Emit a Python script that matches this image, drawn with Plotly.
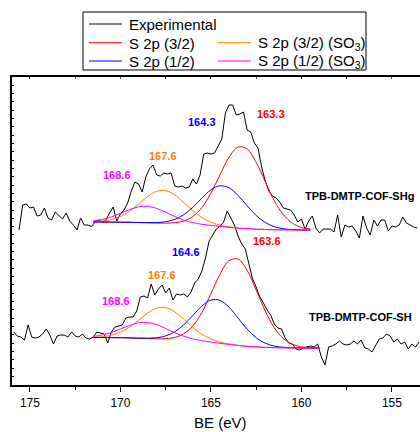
import plotly.graph_objects as go

# ---------------- data ----------------
# Experimental spectra (intensity, arbitrary units) on a 0.2 eV binding-energy grid
up_start, lo_start, step = 175.6, 175.9, 0.2
up_exp = [155, 180, 181, 177, 178, 169, 170, 177, 167, 165,
          173, 169, 166, 172, 164, 160, 155, 167, 160, 160,
          158.5, 163, 165, 163, 165, 172, 178, 164, 171, 175,
          182, 194, 203, 201, 193, 208, 216, 220, 210, 209,
          212, 211, 212, 199, 198, 199, 197, 198, 206, 201,
          210, 231, 232, 231, 232, 239, 246, 272, 280, 280,
          270, 271, 273, 255, 253, 242, 237, 218, 204, 194,
          189, 187, 183, 177, 176, 175, 170, 163, 166, 156,
          164, 169, 157, 152, 156, 156, 156, 153, 170, 148,
          160, 158, 159, 154, 147, 169, 157, 150, 165, 159,
          165, 165, 154, 159, 158, 160, 168, 162, 160, 158,
          157]
lo_exp = [53, 49, 48, 45, 60, 48, 47, 48, 51, 56,
          50, 41, 49, 50, 50, 48, 53, 49, 48, 51,
          47, 46, 48, 53, 52, 51, 42, 53, 58, 59,
          60, 67, 68, 68, 74, 88, 89, 87, 101, 90,
          96, 100, 92, 97, 85, 91, 90, 91, 88, 93,
          102, 106, 114, 127, 144, 150, 156, 159, 163, 174,
          167, 160, 149, 141, 136, 120, 106, 98, 88, 82,
          75, 70, 61, 57, 56, 47, 42, 41, 36, 35,
          37, 38, 39, 38, 41, 28, 20, 38, 39, 41,
          44, 41, 40, 41, 44, 41, 45, 37, 36, 33,
          39, 46, 47, 51, 49, 43, 46, 41, 43, 36,
          41, 38, 43]
up_be = [round(up_start - step * i, 1) for i in range(len(up_exp))]
lo_be = [round(lo_start - step * i, 1) for i in range(len(lo_exp))]

# Fitted components (background + peak)
fit_be_up = [171.5, 171.0, 170.5, 170.0, 169.5, 169.0, 168.5, 168.0, 167.5, 167.0,
             166.5, 166.0, 165.5, 165.0, 164.5, 164.0, 163.5, 163.0, 162.5, 162.0,
             161.5, 161.0, 160.5, 160.0, 159.5]
fit_be_lo = fit_be_up + [159.0]

up_red = [163.0, 163.0, 162.9, 162.8, 162.7, 162.4, 162.2, 161.9, 161.9, 162.3,
          164.0, 168.5, 177.4, 191.8, 210.2, 227.8, 237.9, 236.0, 222.6, 203.3,
          184.3, 170.2, 161.8, 157.5, 155.8]
up_blue = [163.0, 163.0, 162.9, 162.8, 162.7, 162.5, 162.4, 162.5, 163.3, 165.6,
           170.3, 177.7, 186.8, 195.1, 199.2, 197.2, 189.5, 179.2, 169.5, 162.5,
           158.3, 156.3, 155.4, 155.1, 155.0]
up_orange = [163.3, 163.9, 165.4, 168.5, 173.7, 180.9, 188.4, 193.6, 194.3, 190.1,
             182.5, 174.3, 167.5, 162.8, 159.9, 158.2, 157.0, 156.3, 155.8, 155.5,
             155.2, 155.1, 155.1, 155.0, 155.0]
up_magenta = [164.1, 165.6, 168.1, 171.7, 175.4, 178.1, 178.7, 176.6, 172.8, 168.5,
              164.9, 162.4, 160.7, 159.6, 158.6, 157.7, 156.9, 156.3, 155.8, 155.5,
              155.2, 155.1, 155.1, 155.0, 155.0]

lo_red = [47.5, 47.5, 47.4, 47.3, 47.1, 46.8, 46.5, 46.2, 46.4, 47.6,
          51.3, 59.0, 72.6, 91.3, 110.7, 124.3, 125.9, 114.7, 95.0, 74.0,
          57.1, 46.4, 40.7, 38.2, 37.4, 37.1]
lo_blue = [47.5, 47.5, 47.4, 47.3, 47.1, 46.9, 46.9, 47.3, 49.1, 53.2,
           60.2, 69.5, 79.0, 85.0, 84.6, 77.8, 66.9, 55.9, 47.3, 41.8,
           38.9, 37.7, 37.2, 37.0, 37.0, 37.0]
lo_orange = [47.8, 48.4, 49.8, 52.8, 57.8, 64.7, 71.9, 76.8, 77.4, 73.2,
             65.8, 57.6, 50.8, 46.1, 42.9, 41.1, 39.6, 38.7, 38.1, 37.6,
             37.3, 37.2, 37.1, 37.0, 37.0, 37.0]
lo_magenta = [48.6, 50.1, 52.5, 56.0, 59.6, 62.2, 62.6, 60.4, 56.6, 52.3,
              48.8, 46.1, 44.3, 43.0, 41.7, 40.6, 39.5, 38.7, 38.1, 37.6,
              37.3, 37.2, 37.1, 37.0, 37.0, 37.0]

legend_names = ["Experimental", "S 2p (3/2)", "S 2p (3/2) (SO<sub>3</sub>)",
                "S 2p (1/2)", "S 2p (1/2) (SO<sub>3</sub>)"]
peak_labels_up = [("164.3", 165.47, 263.3, "blue"), ("163.3", 161.70, 271.5, "red"),
                  ("167.6", 167.66, 228.8, "orange"), ("168.6", 170.18, 210.0, "magenta")]
peak_labels_lo = [("164.6", 166.39, 133.0, "blue"), ("163.6", 161.89, 144.5, "red"),
                  ("167.6", 167.70, 110.3, "orange"), ("168.6", 170.24, 84.0, "magenta")]
sample_labels = [("TPB-DMTP-COF-SHg", 159.93, 189.5), ("TPB-DMTP-COF-SH", 159.68, 68.0)]

# ---------------- style ----------------
COL = {"black": "#000000", "red": "#FF0000", "blue": "#0000FF",
       "orange": "#FF8000", "magenta": "#FF00FF"}
FONT = "Arial, Liberation Sans, sans-serif"
W, H = 420, 432
ML, MR, MT, MB = 12, 0, 77, 47
PW, PH = W - ML - MR, H - MT - MB
X_RANGE = [175.99, 153.45]


def pxx(px):
    return (px - ML) / PW


def pyy(py):
    return (H - MB - py) / PH


fig = go.Figure()
fig.add_trace(go.Scatter(x=up_be, y=up_exp, mode="lines",
                         line=dict(color=COL["black"], width=1)))
fig.add_trace(go.Scatter(x=lo_be, y=lo_exp, mode="lines",
                         line=dict(color=COL["black"], width=1)))
for be, comps in ((fit_be_up, (up_red, up_orange, up_blue, up_magenta)),
                  (fit_be_lo, (lo_red, lo_orange, lo_blue, lo_magenta))):
    for ys, c in zip(comps, ("red", "orange", "blue", "magenta")):
        fig.add_trace(go.Scatter(x=be, y=ys, mode="lines", line_shape="spline",
                                 line=dict(color=COL[c], width=1)))
# carrier trace for the top (mirrored) axis with inward ticks
fig.add_trace(go.Scatter(x=[up_be[0]], y=[up_exp[0]], xaxis="x2", mode="lines",
                         line=dict(color="rgba(0,0,0,0)"), hoverinfo="skip"))

annotations = []
for txt, x, y, c in peak_labels_up + peak_labels_lo:
    annotations.append(dict(x=x, y=y, xref="x", yref="y", text="<b>%s</b>" % txt,
                            showarrow=False, font=dict(family=FONT, size=11, color=COL[c])))
for txt, x, y in sample_labels:
    annotations.append(dict(x=x, y=y, xref="x", yref="y", text="<b>%s</b>" % txt,
                            showarrow=False, xanchor="left",
                            font=dict(family=FONT, size=11, color="#000")))
annotations.append(dict(x=pxx(220), y=pyy(422), xref="paper", yref="paper",
                        text="BE (eV)", showarrow=False, yanchor="middle",
                        font=dict(family=FONT, size=15, color="#000")))

# manual legend (2-column layout)
shapes = [dict(type="rect", xref="paper", yref="paper", x0=pxx(83), x1=pxx(366),
               y0=pyy(70), y1=pyy(12), line=dict(color="#000", width=1),
               fillcolor="rgba(0,0,0,0)")]
leg_items = [(legend_names[0], "black", 89, 24), (legend_names[1], "red", 89, 42.7),
             (legend_names[2], "orange", 218, 42.7), (legend_names[3], "blue", 89, 61),
             (legend_names[4], "magenta", 218, 61)]
for name, c, lx, ly in leg_items:
    shapes.append(dict(type="line", xref="paper", yref="paper", x0=pxx(lx), x1=pxx(lx + 33),
                       y0=pyy(ly), y1=pyy(ly), line=dict(color=COL[c], width=1)))
    annotations.append(dict(x=pxx(lx + 38), y=pyy(ly + 0.8), xref="paper", yref="paper",
                            text=name, showarrow=False, xanchor="left", yanchor="middle",
                            font=dict(family=FONT, size=15, color="#000")))

fig.update_layout(
    width=W, height=H, margin=dict(l=ML, r=MR, t=MT, b=MB),
    paper_bgcolor="white", plot_bgcolor="white", showlegend=False,
    annotations=annotations, shapes=shapes,
    xaxis=dict(range=X_RANGE, showgrid=False, zeroline=False,
               showline=True, linecolor="#000", linewidth=1.5, mirror=True,
               ticks="outside", ticklen=5, tickwidth=1.2, tickcolor="#000",
               tickmode="linear", tick0=155, dtick=5,
               minor=dict(ticks="outside", ticklen=3, tickwidth=1.2, tickcolor="#000",
                          tickmode="linear", tick0=155, dtick=2.5),
               tickfont=dict(family=FONT, size=12, color="#000"),
               ticklabelstandoff=1),
    xaxis2=dict(range=X_RANGE, overlaying="x", side="top", showgrid=False,
                zeroline=False, showline=False, showticklabels=False,
                ticks="inside", ticklen=2, tickwidth=1, tickcolor="#555",
                tickmode="linear", tick0=155, dtick=2.5),
    yaxis=dict(range=[0, 308], showgrid=False, zeroline=False,
               showline=True, linecolor="#000", linewidth=1.5,
               ticks="inside", ticklen=2, tickwidth=1, tickcolor="#000",
               tickmode="linear", tick0=8.4, dtick=8.33, showticklabels=False),
)

fig.write_html("out.html")
